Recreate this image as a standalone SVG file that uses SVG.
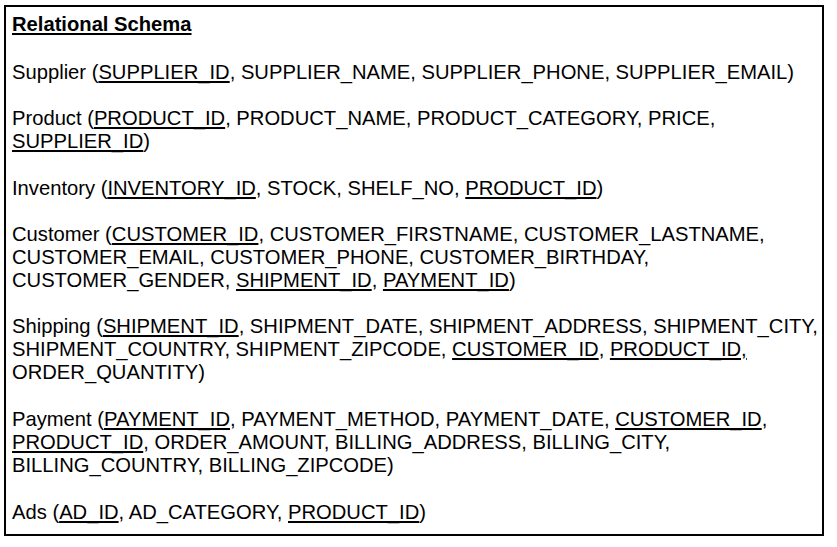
<svg xmlns="http://www.w3.org/2000/svg" width="837" height="547" viewBox="0 0 837 547">
<style>
text{font-family:"Liberation Sans",Arial,sans-serif;font-size:20.2px;fill:#000}
.t{font-weight:bold;text-decoration:underline}
.u{text-decoration:underline}
</style>
<rect x="0" y="0" width="837" height="547" fill="#fff"/>
<rect id="frame" x="5" y="6" width="818" height="529" fill="#fff" stroke="#000" stroke-width="2"/>
<g id="schema">
<text x="12" y="31" class="t">Relational Schema</text>
<text x="12" y="79">Supplier (<tspan class="u">SUPPLIER_ID</tspan>, SUPPLIER_NAME, SUPPLIER_PHONE, SUPPLIER_EMAIL)</text>
<text x="12" y="125">Product (<tspan class="u">PRODUCT_ID</tspan>, PRODUCT_NAME, PRODUCT_CATEGORY, PRICE,</text>
<text x="12" y="148"><tspan class="u">SUPPLIER_ID</tspan>)</text>
<text x="12" y="195">Inventory (<tspan class="u">INVENTORY_ID</tspan>, STOCK, SHELF_NO, <tspan class="u">PRODUCT_ID</tspan>)</text>
<text x="12" y="241">Customer (<tspan class="u">CUSTOMER_ID</tspan>, CUSTOMER_FIRSTNAME, CUSTOMER_LASTNAME,</text>
<text x="12" y="264">CUSTOMER_EMAIL, CUSTOMER_PHONE, CUSTOMER_BIRTHDAY,</text>
<text x="12" y="287">CUSTOMER_GENDER, <tspan class="u">SHIPMENT_ID</tspan>, <tspan class="u">PAYMENT_ID</tspan>)</text>
<text x="12" y="333">Shipping (<tspan class="u">SHIPMENT_ID</tspan>, SHIPMENT_DATE, SHIPMENT_ADDRESS, SHIPMENT_CITY,</text>
<text x="12" y="356">SHIPMENT_COUNTRY, SHIPMENT_ZIPCODE, <tspan class="u">CUSTOMER_ID</tspan>, <tspan class="u">PRODUCT_ID,</tspan></text>
<text x="12" y="379">ORDER_QUANTITY)</text>
<text x="12" y="426">Payment (<tspan class="u">PAYMENT_ID</tspan>, PAYMENT_METHOD, PAYMENT_DATE, <tspan class="u">CUSTOMER_ID</tspan>,</text>
<text x="12" y="449"><tspan class="u">PRODUCT_ID</tspan>, ORDER_AMOUNT, BILLING_ADDRESS, BILLING_CITY,</text>
<text x="12" y="472">BILLING_COUNTRY, BILLING_ZIPCODE)</text>
<text x="12" y="519">Ads (<tspan class="u">AD_ID</tspan>, AD_CATEGORY, <tspan class="u">PRODUCT_ID</tspan>)</text>
</g>
</svg>
